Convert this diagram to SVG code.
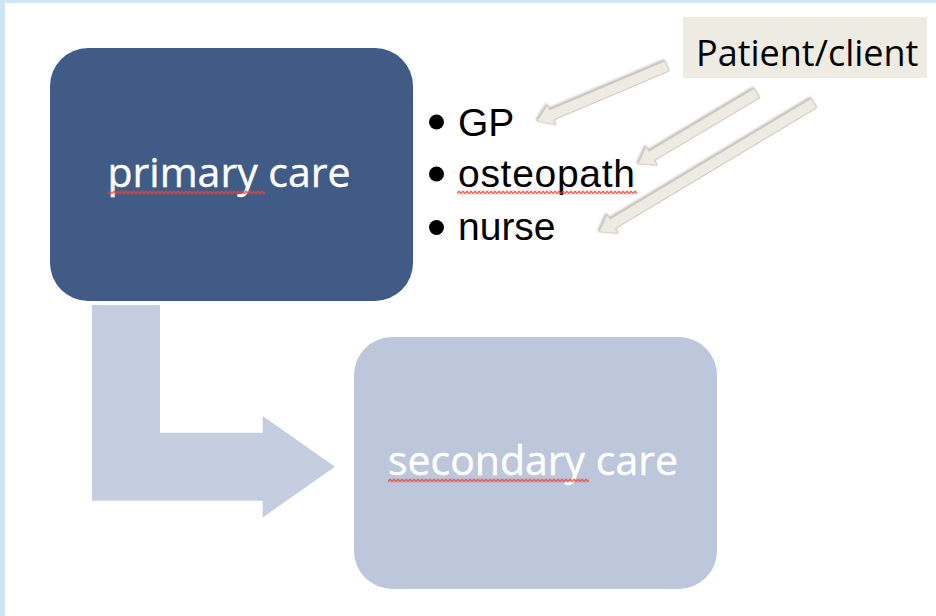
<svg xmlns="http://www.w3.org/2000/svg" width="936" height="616" viewBox="0 0 936 616">
  <style>
    .boxtext { font-family: "Open Sans", "Liberation Sans", sans-serif; font-size: 41px; fill: #FFFFFF; stroke: #FFFFFF; stroke-width: 0.4; }
    .bullet { font-family: "Liberation Sans", Arial, sans-serif; font-size: 39px; fill: #000000; }
    .label { font-family: "Open Sans", "Liberation Sans", sans-serif; font-size: 36px; fill: #000000; }
    .callout { fill: #EEEBE3; stroke: #C4C0B6; stroke-width: 0.8; filter: url(#shadow); }
    .dot { fill: #000000; }
  </style>
  <defs>
    <pattern id="squig" patternUnits="userSpaceOnUse" x="0" y="0" width="4" height="4">
      <path d="M0,3.3 L2,0.7 L4,3.3" fill="none" stroke="#E5453B" stroke-width="1.2"/>
    </pattern>
    <filter id="shadow" x="-20%" y="-50%" width="140%" height="200%">
      <feDropShadow dx="0.5" dy="1.5" stdDeviation="1.2" flood-color="#8A877F" flood-opacity="0.6"/>
    </filter>
  </defs>

  <g id="background">
    <rect x="0" y="0" width="936" height="616" fill="#CFE7F4"/>
    <rect x="5" y="3" width="931" height="613" fill="#FFFFFF"/>
  </g>

  <g id="connectors">
    <path id="bent-arrow" d="M92,305 L160,305 L160,432.7 L262.7,432.7 L262.7,416 L335,466.7 L262.7,517.4 L262.7,500.7 L92,500.7 Z" fill="#C5CEE0"/>
    <path id="arrow-gp" class="callout" transform="translate(667,66) rotate(157.07)" d="M0,-5.5 L125.2,-5.5 L125.2,-11 L141.2,0 L125.2,11 L125.2,5.5 L0,5.5 Z"/>
    <path id="arrow-osteopath" class="callout" transform="translate(757,93) rotate(149.18)" d="M0,-5.5 L122.6,-5.5 L122.6,-11 L138.6,0 L122.6,11 L122.6,5.5 L0,5.5 Z"/>
    <path id="arrow-nurse" class="callout" transform="translate(814,103) rotate(149.04)" d="M0,-5.5 L234.7,-5.5 L234.7,-11 L250.7,0 L234.7,11 L234.7,5.5 L0,5.5 Z"/>
  </g>

  <g id="primary-care">
    <rect x="50" y="48" width="363" height="253" rx="38" ry="38" fill="#3F5B86"/>
    <text class="boxtext" x="229" y="187" text-anchor="middle">primary care</text>
    <g transform="translate(108,190.5)"><rect x="0" y="0" width="157" height="4" fill="url(#squig)"/></g>
  </g>

  <g id="secondary-care">
    <rect x="354" y="337" width="363" height="252" rx="38" ry="38" fill="#BCC7DC"/>
    <text class="boxtext" x="533" y="475" text-anchor="middle" font-size="42">secondary care</text>
    <g transform="translate(388,478.5)"><rect x="0" y="0" width="201" height="4" fill="url(#squig)"/></g>
  </g>

  <g id="bullets">
    <circle class="dot" cx="436.5" cy="122" r="7.5"/>
    <text class="bullet" x="458" y="135.5">GP</text>
    <circle class="dot" cx="436.5" cy="174" r="7.5"/>
    <text class="bullet" x="458" y="186.5" textLength="177" lengthAdjust="spacing">osteopath</text>
    <g transform="translate(457,190.5)"><rect x="0" y="0" width="180" height="4" fill="url(#squig)"/></g>
    <circle class="dot" cx="436.5" cy="227.5" r="7.5"/>
    <text class="bullet" x="458" y="240">nurse</text>
  </g>

  <g id="patient-client">
    <rect x="683" y="17" width="244" height="61" fill="#EEEBE3"/>
    <text class="label" x="696" y="66">Patient/client</text>
  </g>
</svg>
